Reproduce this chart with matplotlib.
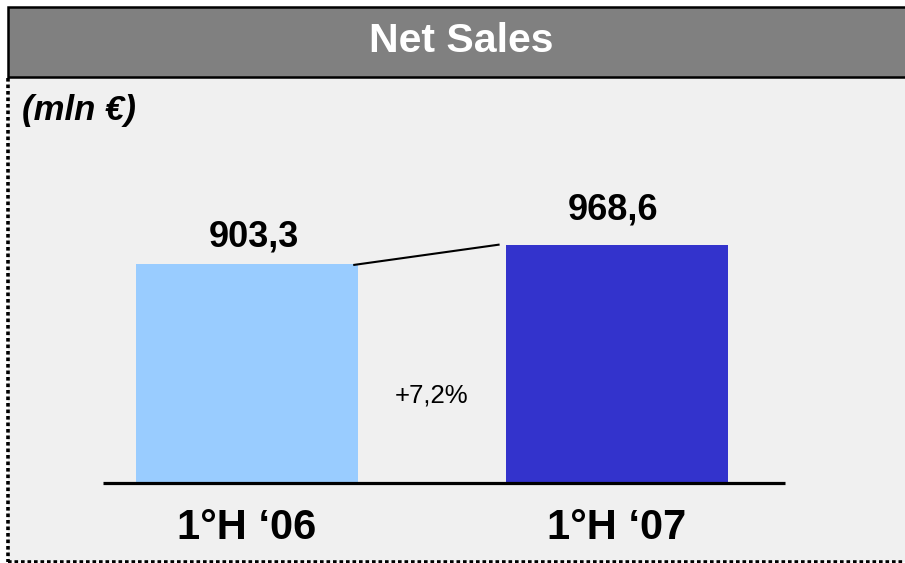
import matplotlib.pyplot as plt
from matplotlib.patches import Rectangle

plt.rcParams['font.family'] = ['Liberation Sans', 'DejaVu Sans']

periods = ["1°H \u201806", "1°H \u201807"]
sales = [903.3, 968.6]
value_labels = ["903,3", "968,6"]
growth_label = "+7,2%"
title = "Net Sales"
unit = "(mln \u20ac)"

bar_colors = ['#99ccff', '#3333cc']
W, H = 905, 563

fig = plt.figure(figsize=(W / 100, H / 100), dpi=100)
fig.patch.set_facecolor('white')

# background layer in pixel coordinates
bg = fig.add_axes([0, 0, 1, 1])
bg.set_xlim(0, W)
bg.set_ylim(H, 0)
bg.axis('off')
bg.add_patch(Rectangle((8, 77), W, 485, facecolor='#f0f0f0', edgecolor='none'))
bg.plot([8, 8], [78, 561.5], color='black', lw=2.6, linestyle=(0, (1, 0.8)), solid_capstyle='butt')
bg.plot([8, W], [561.5, 561.5], color='black', lw=2.6, linestyle=(0, (1, 0.8)), solid_capstyle='butt')
bg.add_patch(Rectangle((8, 7), W + 10, 70, facecolor='#808080', edgecolor='black', lw=1.8))
bg.text(461, 52, title, color='white', fontsize=29.5, fontweight='bold', ha='center', va='baseline')
bg.text(22, 120, unit, fontsize=25, fontweight='bold', style='italic', ha='left', va='baseline')

# bar chart
ax = fig.add_axes([103 / W, (H - 483) / H, (785 - 103) / W, (483 - 90) / H])
ax.patch.set_alpha(0)
ax.axis('off')
x = [0, 1]
width = 0.6
ax.bar(x, sales, width=width, color=bar_colors)
ax.set_xlim(-0.389, 1.454)
ax.set_ylim(150, 1500)
ax.plot([-0.389, 1.454], [150, 150], color='black', lw=2.3, clip_on=False, solid_capstyle='butt')

# connector between bar tops
ax.plot([x[0] + width / 2 - 0.01, x[1] - width / 2 - 0.02], [sales[0] - 4, sales[1]],
        color='black', lw=1.5)

offsets = [(5, 12.7), (-3, 17.8)]
for xi, v, lab, off in zip(x, sales, value_labels, offsets):
    ax.annotate(lab, (xi, v), xytext=off, textcoords='offset points',
                ha='center', va='baseline', fontsize=26, fontweight='bold')

for xi, lab in zip(x, periods):
    ax.annotate(lab, (xi, 0), xycoords=('data', 'axes fraction'), xytext=(0, -40.3),
                textcoords='offset points', ha='center', va='baseline',
                fontsize=30, fontweight='bold')

ax.annotate(growth_label, ((x[0] + x[1]) / 2, 0), xycoords=('data', 'axes fraction'),
            xytext=(0, 58.3), textcoords='offset points', ha='center', va='baseline',
            fontsize=18.5)

fig.savefig('out.png', dpi=100)
